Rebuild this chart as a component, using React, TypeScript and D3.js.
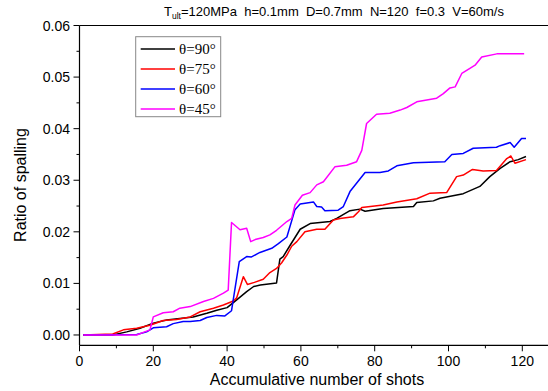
import React from "react";
import * as d3 from "d3";

const W = 548;
const H = 391;

const xTicksMajor = [0, 20, 40, 60, 80, 100, 120];
const xTicksMinor = [10, 30, 50, 70, 90, 110, 130];
const yTicksMajor = [0, 0.01, 0.02, 0.03, 0.04, 0.05, 0.06];
const yTicksMinor = [0.005, 0.015, 0.025, 0.035, 0.045, 0.055];

const s90x = [1, 9, 12.8, 16.4, 20, 23.6, 27.2, 30.8, 34.5, 37.2, 40, 42.6, 45.3, 47.2, 49, 53.4, 54.3, 55.2, 57, 59.8, 62.5, 67.9, 69.7, 73.3, 76, 77.4, 82.3, 90.5, 91.4, 95.9, 97.7, 104, 108.5, 111.2, 114, 116.7, 118.9, 121];
const s90y = [0, 0, 0.0006, 0.0013, 0.0023, 0.0029, 0.0032, 0.0035, 0.0042, 0.0048, 0.0053, 0.0068, 0.0084, 0.0094, 0.0097, 0.0101, 0.0147, 0.0152, 0.0173, 0.0205, 0.0216, 0.022, 0.0226, 0.0241, 0.0244, 0.024, 0.0245, 0.0249, 0.0257, 0.026, 0.0265, 0.0274, 0.0288, 0.0307, 0.0323, 0.0336, 0.034, 0.0346];

const s75x = [1, 9, 11.9, 15.5, 19.1, 22.7, 26.3, 30, 32.7, 36.3, 39, 41.7, 42.6, 44.4, 45.5, 47.4, 49.8, 51.6, 53.4, 54.8, 56.2, 57.5, 58.9, 61.1, 64.3, 66.5, 68.8, 70.6, 74.2, 75.6, 76.5, 82.3, 86, 91.4, 95, 99.5, 102.2, 104, 106.5, 109.4, 113, 115.8, 116.9, 118, 121];
const s75y = [0, 0.0002, 0.001, 0.0013, 0.0019, 0.0028, 0.003, 0.0035, 0.0045, 0.0052, 0.0058, 0.0066, 0.0072, 0.0113, 0.0098, 0.0102, 0.0108, 0.0121, 0.0129, 0.014, 0.0155, 0.0172, 0.0181, 0.02, 0.0205, 0.0205, 0.0223, 0.0226, 0.0229, 0.0239, 0.0247, 0.0252, 0.0258, 0.0264, 0.0275, 0.0276, 0.0307, 0.031, 0.0321, 0.0318, 0.0319, 0.0342, 0.0347, 0.0333, 0.034];

const s60x = [1, 15.5, 18.2, 20, 23.6, 25.4, 28.1, 30, 32.7, 34.5, 37.2, 39.4, 41.2, 43.3, 45.3, 46.5, 48.9, 52.1, 53.9, 56.2, 58.4, 59.8, 63.4, 64.3, 65.6, 66.5, 70.1, 71.5, 73.3, 77.4, 81.4, 83.7, 86, 90.5, 99, 100.9, 104, 106.7, 113, 114, 116.7, 117.8, 119.8, 121];
const s60y = [0, 0.0001, 0.0006, 0.0014, 0.0016, 0.0022, 0.0026, 0.0026, 0.0028, 0.0034, 0.0038, 0.0037, 0.0047, 0.0142, 0.0152, 0.0151, 0.016, 0.0168, 0.0177, 0.019, 0.0243, 0.0254, 0.0258, 0.0249, 0.0248, 0.0241, 0.0242, 0.0249, 0.0278, 0.0315, 0.0315, 0.0318, 0.0328, 0.0334, 0.0336, 0.035, 0.0352, 0.0362, 0.0364, 0.0367, 0.0373, 0.0364, 0.0381, 0.0381];

const s45x = [1, 15.5, 17.3, 19.1, 20, 22.7, 25.4, 27.2, 30, 33.6, 36.3, 39, 40.3, 41.2, 43.5, 45.3, 46.4, 47.6, 49.8, 51.6, 53.4, 56.2, 57.5, 58.4, 60.4, 62.5, 64.3, 66.1, 69.2, 72.4, 75.1, 76.5, 77.8, 80.5, 84.1, 86.9, 88.7, 91.4, 96.8, 98.6, 100.4, 101.8, 103.6, 105.8, 107.2, 109, 113.1, 120.5];
const s45y = [0, 0, 0.0005, 0.001, 0.0035, 0.0043, 0.0045, 0.0052, 0.0055, 0.0065, 0.0071, 0.0081, 0.0087, 0.0218, 0.0204, 0.0207, 0.0181, 0.0185, 0.0189, 0.0194, 0.0203, 0.022, 0.0226, 0.0252, 0.0271, 0.0276, 0.0291, 0.0297, 0.0326, 0.0329, 0.0336, 0.0358, 0.041, 0.0428, 0.043, 0.0436, 0.0441, 0.0452, 0.0459, 0.0468, 0.0479, 0.0481, 0.0507, 0.0517, 0.0523, 0.0539, 0.0545, 0.0545];

const seriesNames = ["θ=90°", "θ=75°", "θ=60°", "θ=45°"];
const seriesColors = ["#000000", "#ff0000", "#0000ff", "#ff00ff"];
const seriesX = [s90x, s75x, s60x, s45x];
const seriesY = [s90y, s75y, s60y, s45y];

export default function App() {
  const x0 = 79.5;
  const x = d3.scale ? null : null;
  const xs = d3.scaleLinear().domain([0, 130]).range([x0, x0 + 130 * 3.69]);
  const ys = d3.scaleLinear().domain([-0.002, 0.06]).range([345.3, 25.5]);
  const yBottom = ys(-0.002);
  const yTop = ys(0.06);
  const line = d3
    .line<[number, number]>()
    .x((d) => xs(d[0]))
    .y((d) => ys(d[1]));
  const sans = "'Liberation Sans', Arial, sans-serif";
  const serif = "'Liberation Serif', 'Times New Roman', serif";

  return (
    <div style={{ position: "absolute", left: 0, top: 0 }}>
      <svg width={W} height={H} style={{ display: "block", background: "#fff" }}>
        <rect x={0} y={0} width={W} height={H} fill="#fff" />
        {/* title */}
        <text x={164} y={16} fontFamily={sans} fontSize={13} fill="#000" style={{ whiteSpace: "pre" }}>
          <tspan>T</tspan>
          <tspan fontSize={8.5} dy={3}>ult</tspan>
          <tspan dy={-3}>{"=120MPa  h=0.1mm  D=0.7mm  N=120  f=0.3  V=60m/s"}</tspan>
        </text>
        {/* series */}
        <g>
          {seriesX.map((xsArr, i) => (
            <path
              key={i}
              d={line(xsArr.map((v, j) => [v, seriesY[i][j]] as [number, number])) || ""}
              fill="none"
              stroke={seriesColors[i]}
              strokeWidth={1.5}
              strokeLinejoin="round"
            />
          ))}
        </g>
        {/* frame */}
        <line x1={x0} x2={x0} y1={yTop} y2={yBottom} stroke="#000" strokeWidth={1.2} />
        <line x1={x0} x2={W} y1={yBottom} y2={yBottom} stroke="#000" strokeWidth={1.2} />
        <line x1={x0} x2={W} y1={yTop} y2={yTop} stroke="#000" strokeWidth={1.2} />
        {/* x ticks */}
        {xTicksMajor.map((t) => (
          <g key={"xm" + t}>
            <line x1={xs(t)} x2={xs(t)} y1={yBottom} y2={yBottom + 6} stroke="#000" strokeWidth={1} />
            <text x={xs(t)} y={366} textAnchor="middle" fontFamily={sans} fontSize={14} fill="#000">
              {t}
            </text>
          </g>
        ))}
        {xTicksMinor.map((t) => (
          <line key={"xn" + t} x1={xs(t)} x2={xs(t)} y1={yBottom} y2={yBottom + 3} stroke="#000" strokeWidth={1} />
        ))}
        {/* y ticks */}
        {yTicksMajor.map((t) => (
          <g key={"ym" + t}>
            <line x1={x0 - 6} x2={x0} y1={ys(t)} y2={ys(t)} stroke="#000" strokeWidth={1} />
            <text x={70} y={ys(t) + 5} textAnchor="end" fontFamily={sans} fontSize={14} fill="#000">
              {t.toFixed(2)}
            </text>
          </g>
        ))}
        {yTicksMinor.map((t) => (
          <line key={"yn" + t} x1={x0 - 3} x2={x0} y1={ys(t)} y2={ys(t)} stroke="#000" strokeWidth={1} />
        ))}
        {/* axis titles */}
        <text x={317} y={385} textAnchor="middle" fontFamily={sans} fontSize={16} fill="#000">
          Accumulative number of shots
        </text>
        <text
          transform={`translate(26,185) rotate(-90)`}
          textAnchor="middle"
          fontFamily={sans}
          fontSize={16}
          fill="#000"
        >
          Ratio of spalling
        </text>
        {/* legend */}
        <rect x={135.7} y={36.7} width={85} height={80} fill="#fff" stroke="#888" strokeWidth={1} />
        {seriesNames.map((n, i) => (
          <g key={n}>
            <line x1={140.7} x2={175} y1={49 + i * 20} y2={49 + i * 20} stroke={seriesColors[i]} strokeWidth={1.5} />
            <text x={179} y={49 + i * 20 + 5} fontFamily={serif} fontSize={15} fill="#000">
              {n}
            </text>
          </g>
        ))}
      </svg>
    </div>
  );
}
